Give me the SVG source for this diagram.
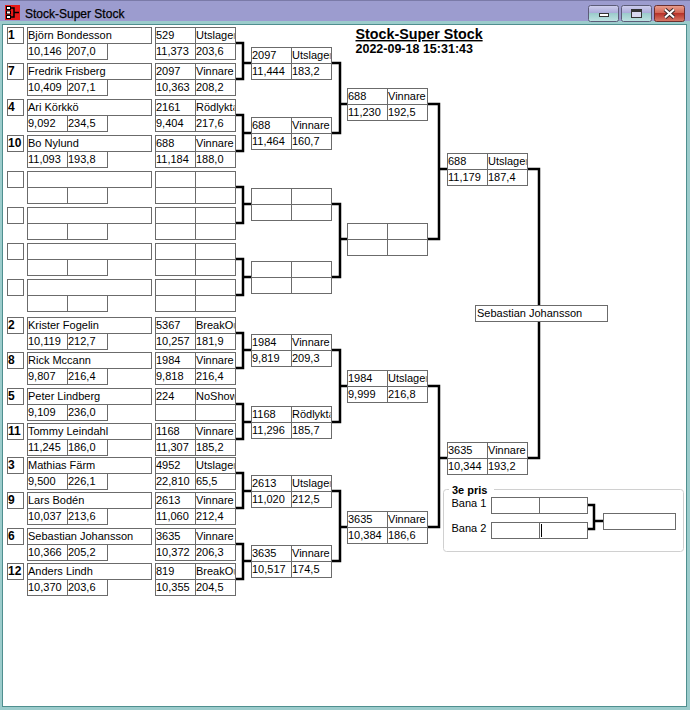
<svg xmlns="http://www.w3.org/2000/svg" xmlns:xlink="http://www.w3.org/1999/xlink" width="690" height="710" viewBox="0 0 690 710">
<style>
text{font-family:"Liberation Sans",Arial,sans-serif;font-size:11px;fill:#000}
.s{font-weight:bold;font-size:12px}
.hd{font-weight:bold}
#connectors path{fill:none;stroke:#000;stroke-width:2.5}
</style>
<defs>
<linearGradient id="gb" x1="0" y1="0" x2="0" y2="1"><stop offset="0" stop-color="#cfcfee"/><stop offset=".5" stop-color="#a8a8d8"/><stop offset=".5" stop-color="#9ccccc"/><stop offset="1" stop-color="#bfe3e3"/></linearGradient>
<linearGradient id="gr" x1="0" y1="0" x2="0" y2="1"><stop offset="0" stop-color="#eaa090"/><stop offset=".5" stop-color="#d0604e"/><stop offset=".5" stop-color="#b8342a"/><stop offset="1" stop-color="#d87a68"/></linearGradient>
<g id="mb" fill="#fff" stroke="#6b6b6b" stroke-width="1"><rect x=".5" y=".5" width="40" height="16"/><rect x="40.5" y=".5" width="40" height="16"/><rect x=".5" y="16.5" width="40" height="16"/><rect x="40.5" y="16.5" width="40" height="16"/></g>
<g id="pb" fill="#fff" stroke="#6b6b6b" stroke-width="1"><rect x="7.5" y=".5" width="16" height="16"/><rect x="27.5" y=".5" width="124" height="16"/><rect x="27.5" y="16.5" width="40" height="16"/><rect x="67.5" y="16.5" width="40" height="16"/></g>
<clipPath id="k2"><rect x="150" y="0" width="84.5" height="710"/></clipPath>
<clipPath id="k3"><rect x="250" y="0" width="80.5" height="710"/></clipPath>
<clipPath id="k4"><rect x="346" y="0" width="80.5" height="710"/></clipPath>
<clipPath id="k5"><rect x="446" y="0" width="80.5" height="710"/></clipPath>
</defs>

<g id="window">
<rect x="0" y="0" width="690" height="710" fill="#9ccccc"/>
<rect x="0" y="0" width="690" height="21" fill="#9c9ccf"/>
<line x1="0" y1="0.5" x2="690" y2="0.5" stroke="#7a7aa8"/>
<rect x="2.5" y="24.5" width="684" height="682" fill="#fff" stroke="#4f8f8f"/>
<rect x="5" y="5" width="15" height="15" fill="#e81818"/>
<g fill="#fff" stroke="#000" stroke-width="1"><rect x="6.5" y="6.5" width="4" height="3"/><rect x="6.5" y="11" width="4" height="3"/><rect x="6.5" y="15.5" width="4" height="3"/></g>
<path d="M11 8H14V17H11M14 12.5H19" fill="none" stroke="#000" stroke-width="1.5"/>
<text x="25" y="18" style="font-size:12px;stroke:#000;stroke-width:0.25">Stock-Super Stock</text>
<rect x="588.5" y="5.5" width="30" height="16" rx="2" fill="url(#gb)" stroke="#5c5c78"/>
<rect x="599.5" y="13.5" width="9" height="3" fill="#fff" stroke="#333"/>
<rect x="621.5" y="5.5" width="30" height="16" rx="2" fill="url(#gb)" stroke="#5c5c78"/>
<rect x="631.5" y="9.5" width="10" height="8" fill="#d8d8f0" stroke="#333"/>
<line x1="632" y1="11" x2="641" y2="11" stroke="#333" stroke-width="2"/>
<rect x="654.5" y="5.5" width="30" height="16" rx="2" fill="url(#gr)" stroke="#6a3030"/>
<path d="M665 9.5L674 17.5M674 9.5L665 17.5" stroke="#3a2a2a" stroke-width="4"/>
<path d="M665 9.5L674 17.5M674 9.5L665 17.5" stroke="#fff" stroke-width="2"/>
</g>

<g id="header">
<text class="hd" x="355.5" y="39" style="font-size:14.3px;text-decoration:underline">Stock-Super Stock</text>
<text class="hd" x="355.5" y="53" style="font-size:12.5px">2022-09-18 15:31:43</text>
</g>

<g id="connectors">
<path d="M235 43H243V79H235M243 63H251"/>
<path d="M235 115H243V151H235M243 133H251"/>
<path d="M235 187H243V223H235M243 204H251"/>
<path d="M235 259H243V295H235M243 277H251"/>
<path d="M235 333H243V368H235M243 350H251"/>
<path d="M235 404H243V439H235M243 422H251"/>
<path d="M235 473H243V508H235M243 491H251"/>
<path d="M235 544H243V579H235M243 561H251"/>
<path d="M331 63H340V133H331M340 104H347"/>
<path d="M331 204H340V277H331M340 239H347"/>
<path d="M331 350H340V422H331M340 386H347"/>
<path d="M331 491H340V561H331M340 527H347"/>
<path d="M427 104H439V239H427M439 169H447"/>
<path d="M427 386H439V527H427M439 458H447"/>
<path d="M527 169H539V458H527"/>
<path d="M587 505H594V529H587M594 521H603"/>
</g>

<g id="p1"><use xlink:href="#pb" href="#pb" y="27"/><text class="s" x="8" y="39">1</text><text x="28" y="39">Björn Bondesson</text><text x="28" y="55">10,146</text><text x="68" y="55">207,0</text></g>
<g id="p7"><use xlink:href="#pb" href="#pb" y="63"/><text class="s" x="8" y="75">7</text><text x="28" y="75">Fredrik Frisberg</text><text x="28" y="91">10,409</text><text x="68" y="91">207,1</text></g>
<g id="p4"><use xlink:href="#pb" href="#pb" y="99"/><text class="s" x="8" y="111">4</text><text x="28" y="111">Ari Körkkö</text><text x="28" y="127">9,092</text><text x="68" y="127">234,5</text></g>
<g id="p10"><use xlink:href="#pb" href="#pb" y="135"/><text class="s" x="8" y="147">10</text><text x="28" y="147">Bo Nylund</text><text x="28" y="163">11,093</text><text x="68" y="163">193,8</text></g>
<g id="pe1"><use xlink:href="#pb" href="#pb" y="171"/></g>
<g id="pe2"><use xlink:href="#pb" href="#pb" y="207"/></g>
<g id="pe3"><use xlink:href="#pb" href="#pb" y="243"/></g>
<g id="pe4"><use xlink:href="#pb" href="#pb" y="279"/></g>
<g id="p2"><use xlink:href="#pb" href="#pb" y="317"/><text class="s" x="8" y="329">2</text><text x="28" y="329">Krister Fogelin</text><text x="28" y="345">10,119</text><text x="68" y="345">212,7</text></g>
<g id="p8"><use xlink:href="#pb" href="#pb" y="352"/><text class="s" x="8" y="364">8</text><text x="28" y="364">Rick Mccann</text><text x="28" y="380">9,807</text><text x="68" y="380">216,4</text></g>
<g id="p5"><use xlink:href="#pb" href="#pb" y="388"/><text class="s" x="8" y="400">5</text><text x="28" y="400">Peter Lindberg</text><text x="28" y="416">9,109</text><text x="68" y="416">236,0</text></g>
<g id="p11"><use xlink:href="#pb" href="#pb" y="423"/><text class="s" x="8" y="435">11</text><text x="28" y="435">Tommy Leindahl</text><text x="28" y="451">11,245</text><text x="68" y="451">186,0</text></g>
<g id="p3"><use xlink:href="#pb" href="#pb" y="457"/><text class="s" x="8" y="469">3</text><text x="28" y="469">Mathias Färm</text><text x="28" y="485">9,500</text><text x="68" y="485">226,1</text></g>
<g id="p9"><use xlink:href="#pb" href="#pb" y="492"/><text class="s" x="8" y="504">9</text><text x="28" y="504">Lars Bodén</text><text x="28" y="520">10,037</text><text x="68" y="520">213,6</text></g>
<g id="p6"><use xlink:href="#pb" href="#pb" y="528"/><text class="s" x="8" y="540">6</text><text x="28" y="540">Sebastian Johansson</text><text x="28" y="556">10,366</text><text x="68" y="556">205,2</text></g>
<g id="p12"><use xlink:href="#pb" href="#pb" y="563"/><text class="s" x="8" y="575">12</text><text x="28" y="575">Anders Lindh</text><text x="28" y="591">10,370</text><text x="68" y="591">203,6</text></g>

<g id="r1-1"><use xlink:href="#mb" href="#mb" x="155" y="27"/><text x="156" y="39">529</text><text x="196" y="39" clip-path="url(#k2)">Utslager</text><text x="156" y="55">11,373</text><text x="196" y="55">203,6</text></g>
<g id="r1-2"><use xlink:href="#mb" href="#mb" x="155" y="63"/><text x="156" y="75">2097</text><text x="196" y="75" clip-path="url(#k2)">Vinnare</text><text x="156" y="91">10,363</text><text x="196" y="91">208,2</text></g>
<g id="r1-3"><use xlink:href="#mb" href="#mb" x="155" y="99"/><text x="156" y="111">2161</text><text x="196" y="111" clip-path="url(#k2)">Rödlykta</text><text x="156" y="127">9,404</text><text x="196" y="127">217,6</text></g>
<g id="r1-4"><use xlink:href="#mb" href="#mb" x="155" y="135"/><text x="156" y="147">688</text><text x="196" y="147" clip-path="url(#k2)">Vinnare</text><text x="156" y="163">11,184</text><text x="196" y="163">188,0</text></g>
<g id="r1-5"><use xlink:href="#mb" href="#mb" x="155" y="171"/></g>
<g id="r1-6"><use xlink:href="#mb" href="#mb" x="155" y="207"/></g>
<g id="r1-7"><use xlink:href="#mb" href="#mb" x="155" y="243"/></g>
<g id="r1-8"><use xlink:href="#mb" href="#mb" x="155" y="279"/></g>
<g id="r1-9"><use xlink:href="#mb" href="#mb" x="155" y="317"/><text x="156" y="329">5367</text><text x="196" y="329" clip-path="url(#k2)">BreakOut</text><text x="156" y="345">10,257</text><text x="196" y="345">181,9</text></g>
<g id="r1-10"><use xlink:href="#mb" href="#mb" x="155" y="352"/><text x="156" y="364">1984</text><text x="196" y="364" clip-path="url(#k2)">Vinnare</text><text x="156" y="380">9,818</text><text x="196" y="380">216,4</text></g>
<g id="r1-11"><use xlink:href="#mb" href="#mb" x="155" y="388"/><text x="156" y="400">224</text><text x="196" y="400" clip-path="url(#k2)">NoShow</text></g>
<g id="r1-12"><use xlink:href="#mb" href="#mb" x="155" y="423"/><text x="156" y="435">1168</text><text x="196" y="435" clip-path="url(#k2)">Vinnare</text><text x="156" y="451">11,307</text><text x="196" y="451">185,2</text></g>
<g id="r1-13"><use xlink:href="#mb" href="#mb" x="155" y="457"/><text x="156" y="469">4952</text><text x="196" y="469" clip-path="url(#k2)">Utslager</text><text x="156" y="485">22,810</text><text x="196" y="485">65,5</text></g>
<g id="r1-14"><use xlink:href="#mb" href="#mb" x="155" y="492"/><text x="156" y="504">2613</text><text x="196" y="504" clip-path="url(#k2)">Vinnare</text><text x="156" y="520">11,060</text><text x="196" y="520">212,4</text></g>
<g id="r1-15"><use xlink:href="#mb" href="#mb" x="155" y="528"/><text x="156" y="540">3635</text><text x="196" y="540" clip-path="url(#k2)">Vinnare</text><text x="156" y="556">10,372</text><text x="196" y="556">206,3</text></g>
<g id="r1-16"><use xlink:href="#mb" href="#mb" x="155" y="563"/><text x="156" y="575">819</text><text x="196" y="575" clip-path="url(#k2)">BreakOut</text><text x="156" y="591">10,355</text><text x="196" y="591">204,5</text></g>

<g id="r2-1"><use xlink:href="#mb" href="#mb" x="251" y="47"/><text x="252" y="59">2097</text><text x="292" y="59" clip-path="url(#k3)">Utslager</text><text x="252" y="75">11,444</text><text x="292" y="75">183,2</text></g>
<g id="r2-2"><use xlink:href="#mb" href="#mb" x="251" y="117"/><text x="252" y="129">688</text><text x="292" y="129" clip-path="url(#k3)">Vinnare</text><text x="252" y="145">11,464</text><text x="292" y="145">160,7</text></g>
<g id="r2-3"><use xlink:href="#mb" href="#mb" x="251" y="188"/></g>
<g id="r2-4"><use xlink:href="#mb" href="#mb" x="251" y="261"/></g>
<g id="r2-5"><use xlink:href="#mb" href="#mb" x="251" y="334"/><text x="252" y="346">1984</text><text x="292" y="346" clip-path="url(#k3)">Vinnare</text><text x="252" y="362">9,819</text><text x="292" y="362">209,3</text></g>
<g id="r2-6"><use xlink:href="#mb" href="#mb" x="251" y="406"/><text x="252" y="418">1168</text><text x="292" y="418" clip-path="url(#k3)">Rödlykta</text><text x="252" y="434">11,296</text><text x="292" y="434">185,7</text></g>
<g id="r2-7"><use xlink:href="#mb" href="#mb" x="251" y="475"/><text x="252" y="487">2613</text><text x="292" y="487" clip-path="url(#k3)">Utslager</text><text x="252" y="503">11,020</text><text x="292" y="503">212,5</text></g>
<g id="r2-8"><use xlink:href="#mb" href="#mb" x="251" y="545"/><text x="252" y="557">3635</text><text x="292" y="557" clip-path="url(#k3)">Vinnare</text><text x="252" y="573">10,517</text><text x="292" y="573">174,5</text></g>

<g id="r3-1"><use xlink:href="#mb" href="#mb" x="347" y="88"/><text x="348" y="100">688</text><text x="388" y="100" clip-path="url(#k4)">Vinnare</text><text x="348" y="116">11,230</text><text x="388" y="116">192,5</text></g>
<g id="r3-2"><use xlink:href="#mb" href="#mb" x="347" y="223"/></g>
<g id="r3-3"><use xlink:href="#mb" href="#mb" x="347" y="370"/><text x="348" y="382">1984</text><text x="388" y="382" clip-path="url(#k4)">Utslager</text><text x="348" y="398">9,999</text><text x="388" y="398">216,8</text></g>
<g id="r3-4"><use xlink:href="#mb" href="#mb" x="347" y="511"/><text x="348" y="523">3635</text><text x="388" y="523" clip-path="url(#k4)">Vinnare</text><text x="348" y="539">10,384</text><text x="388" y="539">186,6</text></g>

<g id="r4-1"><use xlink:href="#mb" href="#mb" x="447" y="153"/><text x="448" y="165">688</text><text x="488" y="165" clip-path="url(#k5)">Utslager</text><text x="448" y="181">11,179</text><text x="488" y="181">187,4</text></g>
<g id="r4-2"><use xlink:href="#mb" href="#mb" x="447" y="442"/><text x="448" y="454">3635</text><text x="488" y="454" clip-path="url(#k5)">Vinnare</text><text x="448" y="470">10,344</text><text x="488" y="470">193,2</text></g>

<g id="final"><rect x="475.5" y="305.5" width="132" height="16" fill="#fff" stroke="#6b6b6b"/><text x="477" y="317">Sebastian Johansson</text></g>

<g id="third">
<rect x="443.5" y="489.5" width="240" height="62" rx="3" fill="none" stroke="#d0d0d0"/>
<rect x="449" y="485" width="45" height="9" fill="#fff"/>
<text class="hd" x="452" y="494">3e pris</text>
<text x="451.5" y="507">Bana 1</text>
<text x="451.5" y="532">Bana 2</text>
<g fill="#fff" stroke="#6b6b6b"><rect x="491.5" y="497.5" width="48" height="16"/><rect x="539.5" y="497.5" width="48" height="16"/><rect x="491.5" y="522.5" width="48" height="16"/><rect x="539.5" y="522.5" width="48" height="16"/><rect x="603.5" y="513.5" width="72" height="16"/></g>
<line x1="541.5" y1="524" x2="541.5" y2="537" stroke="#000"/>
</g>
</svg>
